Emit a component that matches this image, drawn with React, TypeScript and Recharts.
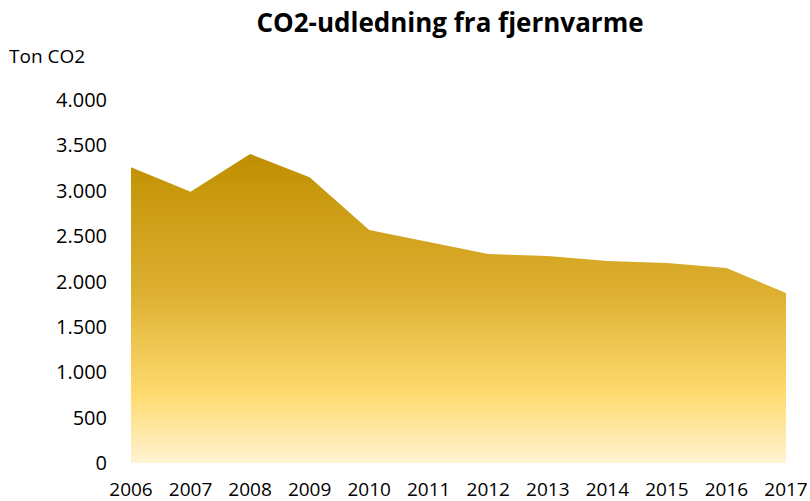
import { AreaChart, Area, XAxis, YAxis } from 'recharts'

const years = ['2006', '2007', '2008', '2009', '2010', '2011', '2012', '2013', '2014', '2015', '2016', '2017']
const emissions = [3260, 2990, 3405, 3150, 2567, 2435, 2303, 2280, 2226, 2204, 2149, 1873]
const yTicks = [0, 500, 1000, 1500, 2000, 2500, 3000, 3500, 4000]

const data = years.map((year, i) => ({ year, value: emissions[i] }))

const font = "'Open Sans', 'Noto Sans', sans-serif"

const formatThousands = (v: number) =>
  v >= 1000 ? `${Math.floor(v / 1000)}.${String(v % 1000).padStart(3, '0')}` : String(v)

export default function App() {
  return (
    <div style={{ position: 'absolute', left: 0, top: 0, width: 810, height: 501, background: '#fff', fontFamily: font }}>
      <div
        style={{
          position: 'absolute',
          left: 0,
          width: 900,
          top: 4,
          textAlign: 'center',
          fontSize: 26,
          fontWeight: 700,
          color: '#000',
          whiteSpace: 'nowrap',
        }}
      >
        CO2-udledning fra fjernvarme
      </div>
      <div style={{ position: 'absolute', left: 9, top: 43, fontSize: 19, color: '#000', whiteSpace: 'nowrap' }}>
        Ton CO2
      </div>
      <AreaChart
        width={810}
        height={501}
        data={data}
        margin={{ top: 100, right: 24, left: 0, bottom: 0 }}
      >
        <defs>
          <linearGradient id="co2Fill" x1="0" y1="0" x2="0" y2="1">
            <stop offset="0%" stopColor="#C08F00" />
            <stop offset="45%" stopColor="#DDB032" />
            <stop offset="78%" stopColor="#FFDB70" />
            <stop offset="100%" stopColor="#FFF3D2" />
          </linearGradient>
        </defs>
        <XAxis
          dataKey="year"
          height={38}
          axisLine={false}
          tickLine={false}
          tickSize={0}
          tickMargin={20}
          interval={0}
          tick={{ fill: '#000', fontSize: 19, fontFamily: font }}
        />
        <YAxis
          width={131}
          domain={[0, 4000]}
          ticks={yTicks}
          axisLine={false}
          tickLine={false}
          tickSize={0}
          tickMargin={24}
          tickFormatter={formatThousands}
          tick={{ fill: '#000', fontSize: 20, fontFamily: font }}
        />
        <Area
          type="linear"
          dataKey="value"
          stroke="none"
          fill="url(#co2Fill)"
          fillOpacity={1}
          isAnimationActive={false}
        />
      </AreaChart>
    </div>
  )
}
